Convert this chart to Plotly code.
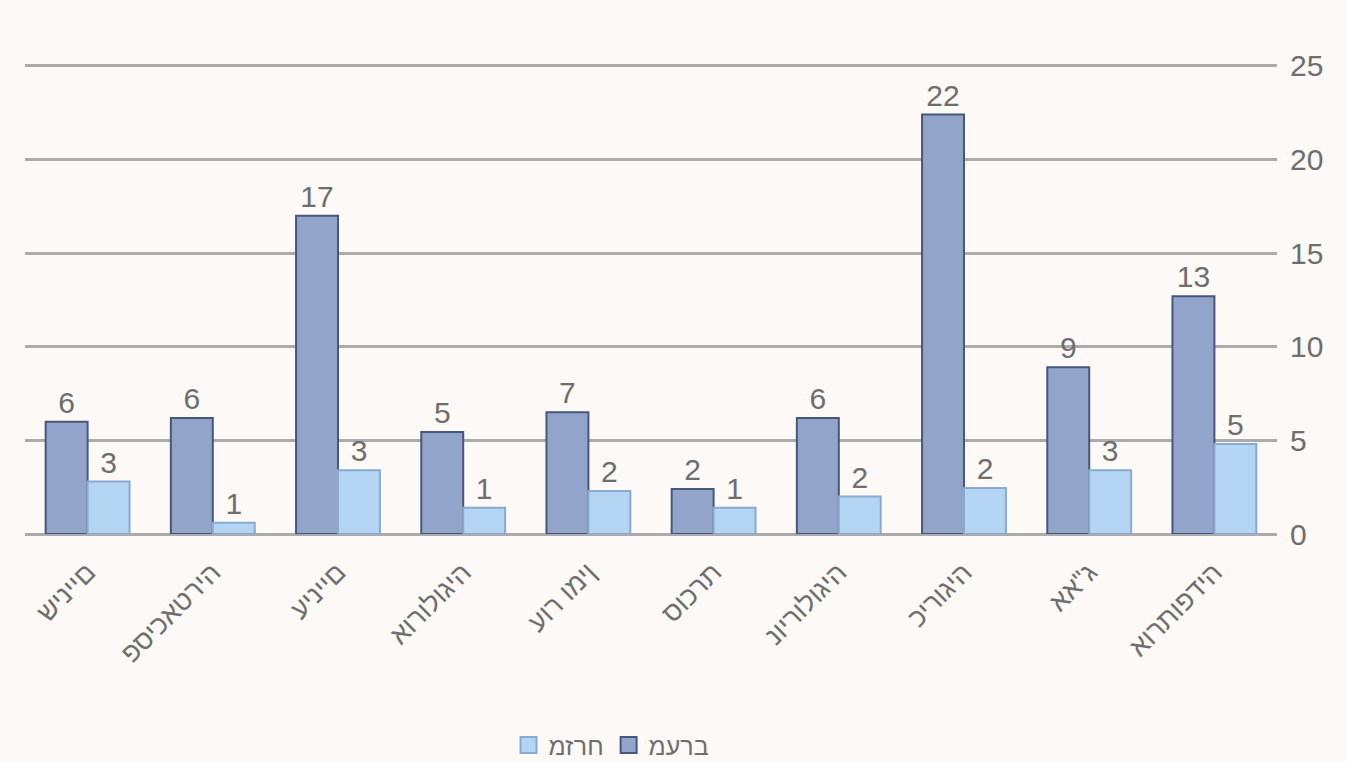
import plotly.graph_objects as go

LRO = "\u202D"
PDF = "\u202C"

categories = ["שיניים", "פסיכאטריה", "עיניים", "אורולוגיה", "עור ומין",
              "סוכרת", "נוירולוגיה", "כירוגיה", "אא\"ג", "אורתופדיה"]
west_values = [6.0, 6.2, 17.0, 5.45, 6.5, 2.4, 6.2, 22.4, 8.9, 12.7]
east_values = [2.8, 0.6, 3.4, 1.4, 2.3, 1.4, 2.0, 2.45, 3.4, 4.8]
series_names = ["מערב", "מזרח"]
y_ticks = [0, 5, 10, 15, 20, 25]

def ltr(s):
    return LRO + s + PDF

cats = [ltr(c) for c in categories]
text_color = "#6e6e6e"
font_family = "Liberation Sans, Arial, sans-serif"

west_fill, west_line = "#93a4ca", "#46577a"
east_fill, east_line = "#b3d4f3", "#88abcf"

fig = go.Figure()
fig.add_trace(go.Bar(
    x=cats, y=west_values, name=ltr(series_names[0]), showlegend=False,
    marker=dict(color=west_fill, line=dict(color=west_line, width=2)),
    texttemplate="%{y:.0f}", textposition="outside",
    textfont=dict(size=30, color=text_color, family=font_family),
    cliponaxis=False,
))
fig.add_trace(go.Bar(
    x=cats, y=east_values, name=ltr(series_names[1]), showlegend=False,
    marker=dict(color=east_fill, line=dict(color=east_line, width=2)),
    texttemplate="%{y:.0f}", textposition="outside",
    textfont=dict(size=30, color=text_color, family=font_family),
    cliponaxis=False,
))
# legend swatches (east first, as in the reference legend)
for nm, fill, ln in [(series_names[1], east_fill, east_line), (series_names[0], west_fill, west_line)]:
    fig.add_trace(go.Scatter(
        x=[None], y=[None], mode="markers", name=ltr(nm), showlegend=True,
        marker=dict(symbol="square", size=16, color=fill, line=dict(color=ln, width=2)),
    ))

fig.update_layout(
    width=1347, height=762,
    margin=dict(l=25, r=70, t=64, b=228),
    paper_bgcolor="#fdf9f6", plot_bgcolor="#fdf9f6",
    font=dict(family=font_family, color=text_color),
    barmode="group", bargap=0.33, bargroupgap=0,
    showlegend=True,
    legend=dict(orientation="h", xref="container", yref="container",
                x=0.454, xanchor="center", y=0.022, yanchor="middle",
                font=dict(size=25, color=text_color), itemwidth=30,
                bgcolor="rgba(0,0,0,0)"),
    xaxis=dict(tickangle=-45, tickfont=dict(size=27, color=text_color),
               showgrid=False, showline=False, ticks="", automargin=False,
               ticklabelstandoff=16),
    yaxis=dict(side="right", range=[0, 25.1], tickvals=y_ticks,
               tickfont=dict(size=30, color=text_color),
               showgrid=True, gridcolor="#ababab", gridwidth=2.5,
               zeroline=True, zerolinecolor="#ababab", zerolinewidth=2.5,
               showline=False, ticks="", automargin=False,
               ticklabelstandoff=12),
)

fig.write_html("out.html")
